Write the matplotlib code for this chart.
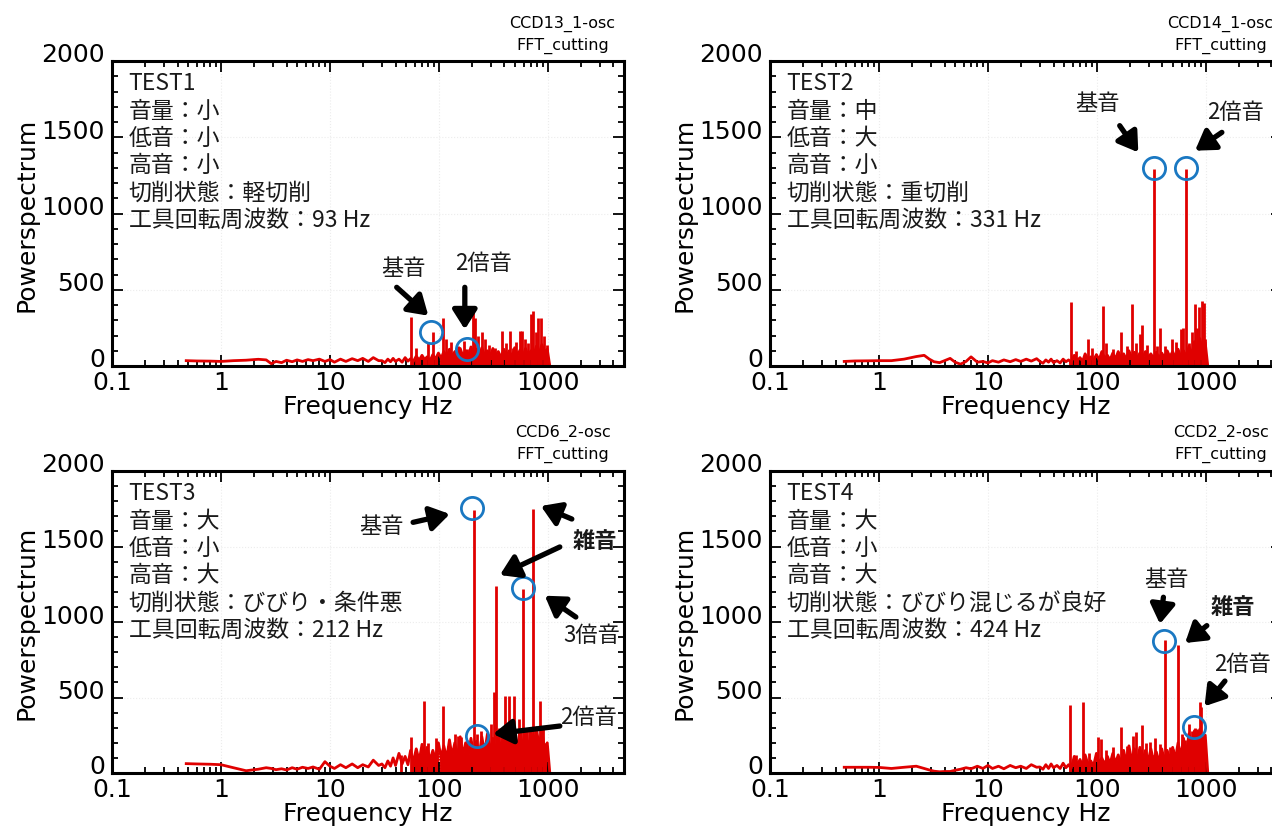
"""FFT power spectra of four cutting tests (2x2 panels, log frequency axis)."""

import matplotlib
matplotlib.use("Agg")
import matplotlib.pyplot as plt
from matplotlib import transforms as mtransforms
from matplotlib.ticker import FixedLocator, LogLocator, MultipleLocator, NullFormatter

plt.rcParams["font.family"] = ["DejaVu Sans", "Noto Sans CJK JP"]
JP = ["Noto Sans CJK JP", "DejaVu Sans"]

RED = "#e00000"
BLUE = "#1a78c2"

# ---- data -----------------------------------------------------------------
LOW_FREQ = [0.48, 0.6, 0.8, 1.0, 1.3, 1.7, 2.2, 2.6, 2.9, 3.2, 3.6, 4.0, 4.5, 5.0,
            5.6, 6.3, 7.0, 8.0, 9.0, 10, 11, 12.5, 14, 16, 18, 20, 22.5, 25, 28]
NOISE_FREQ = [30, 32, 34, 36, 38, 40, 43, 46, 49, 52, 55, 58, 62, 66, 70, 74, 78, 83,
              88, 93, 99, 105, 111, 118, 125, 132, 140, 148, 157, 166, 176, 186, 197,
              209, 221, 234, 248, 263, 279, 295, 313, 331, 351, 372, 394, 417, 442,
              468, 496, 525, 556, 589, 624, 661, 700, 742, 786, 832, 881, 933, 988, 1040]

low1 = [35, 33, 32, 30, 35, 38, 44, 40, 15, 30, 22, 38, 28, 40, 30, 42, 35, 45, 30,
        42, 25, 45, 30, 48, 35, 50, 30, 55, 35]
noise1 = [35, 22, 45, 28, 50, 30, 45, 25, 55, 32, 48, 28, 65, 38, 70, 42, 60, 35,
          75, 45, 85, 50, 95, 55, 110, 60, 95, 50, 115, 65, 100, 60, 125, 70, 110, 65,
          120, 70, 100, 60, 115, 65, 95, 55, 110, 60, 100, 55, 120, 70, 105, 60, 115, 65,
          100, 70, 130, 80, 140, 90, 110, 5]
spk1_f = [55, 62, 79, 88, 108, 117, 129, 150, 169, 182, 206, 215, 230, 247, 265, 290,
          327, 381, 410, 445, 475, 515, 550, 576, 620, 660, 708, 733, 780, 815, 865, 930, 990]
spk1_p = [320, 120, 160, 220, 315, 180, 160, 130, 165, 110, 360, 315, 200, 225, 180, 140,
          120, 232, 150, 232, 120, 160, 232, 230, 180, 150, 340, 363, 220, 315, 315, 200, 140]

low2 = [30, 33, 34, 35, 35, 45, 62, 70, 45, 28, 22, 35, 50, 25, 12, 30, 60, 25, 30,
        20, 35, 25, 40, 28, 42, 30, 45, 32, 48]
noise2 = [30, 18, 40, 25, 45, 22, 35, 20, 45, 28, 40, 25, 70, 35, 55, 30, 80, 40,
          60, 35, 75, 40, 95, 50, 70, 40, 85, 45, 95, 50, 80, 45, 100, 55, 90, 50,
          85, 50, 95, 55, 80, 50, 90, 50, 85, 55, 100, 60, 95, 55, 110, 60, 100, 60,
          130, 70, 160, 90, 180, 100, 150, 5]
spk2_f = [58, 65, 83, 90, 114, 120, 140, 165, 190, 212, 230, 247, 262, 290, 331, 360,
          379, 420, 488, 530, 593, 620, 662, 700, 740, 787, 830, 857, 919, 955, 990]
spk2_p = [420, 100, 177, 120, 391, 150, 110, 221, 130, 406, 150, 210, 269, 140, 1290, 130,
          247, 130, 177, 160, 243, 250, 1290, 150, 221, 406, 250, 385, 428, 415, 180]

low3 = [62, 60, 58, 55, 35, 15, 25, 35, 30, 22, 28, 20, 35, 25, 38, 30, 40, 25, 75,
        45, 30, 55, 35, 60, 35, 55, 40, 85, 50]
noise3 = [60, 35, 80, 45, 100, 50, 130, 60, 110, 55, 150, 70, 160, 80, 190, 90, 170, 85,
          150, 90, 200, 100, 180, 95, 220, 110, 200, 100, 240, 120, 200, 110, 230, 120, 210, 115,
          240, 130, 260, 140, 230, 120, 250, 140, 280, 150, 260, 140, 270, 150, 290, 160, 270, 150,
          280, 160, 300, 170, 280, 160, 200, 10]
spk3_f = [45, 55, 62, 73, 80, 95, 108, 120, 140, 151, 161, 180, 212, 225, 245, 265, 283,
          299, 323, 334, 360, 380, 404, 440, 484, 540, 594, 640, 680, 730, 775, 845, 900, 950]
spk3_p = [120, 236, 160, 479, 200, 230, 446, 180, 260, 247, 240, 220, 1740, 260, 280, 200, 260,
          324, 534, 1240, 300, 250, 512, 512, 512, 360, 1220, 300, 280, 1750, 305, 479, 300, 200]

low4 = [38, 38, 38, 37, 30, 38, 45, 30, 20, 12, 8, 10, 10, 18, 25, 35, 28, 45, 30,
        50, 30, 45, 28, 50, 35, 45, 30, 55, 38]
noise4 = [40, 25, 55, 30, 60, 35, 50, 30, 65, 35, 55, 30, 110, 50, 90, 45, 120, 55,
          80, 45, 130, 60, 100, 55, 110, 60, 130, 65, 120, 60, 150, 70, 180, 80, 160, 75,
          170, 80, 150, 75, 160, 80, 140, 75, 160, 80, 150, 85, 170, 90, 200, 110, 230, 120,
          260, 180, 280, 200, 290, 210, 250, 10]
spk4_f = [57, 65, 75, 85, 103, 108, 120, 140, 168, 190, 216, 231, 257, 280, 306, 340,
          380, 424, 470, 500, 550, 600, 650, 708, 750, 787, 830, 886, 910, 960]
spk4_p = [450, 120, 472, 130, 236, 225, 150, 170, 302, 180, 247, 269, 318, 200, 203, 230,
          190, 880, 170, 160, 850, 260, 220, 325, 280, 300, 290, 468, 440, 260]

headers = ["CCD13_1-osc", "CCD14_1-osc", "CCD6_2-osc", "CCD2_2-osc"]
info = [
    ["TEST1", "音量：小", "低音：小", "高音：小", "切削状態：軽切削", "工具回転周波数：93 Hz"],
    ["TEST2", "音量：中", "低音：大", "高音：小", "切削状態：重切削", "工具回転周波数：331 Hz"],
    ["TEST3", "音量：大", "低音：小", "高音：大", "切削状態：びびり・条件悪", "工具回転周波数：212 Hz"],
    ["TEST4", "音量：大", "低音：小", "高音：大", "切削状態：びびり混じるが良好", "工具回転周波数：424 Hz"],
]

# annotations: circles (f, p); labels (text, f, p, bold); arrows (tail, head)
notes = [
    dict(circles=[(85, 221), (182, 111)],
         labels=[("基音", 47, 647, False), ("2倍音", 259, 680, False)],
         arrows=[((41, 516), (80, 330)), ((173, 516), (173, 240))]),
    dict(circles=[(331, 1296), (662, 1296)],
         labels=[("基音", 101, 1729, False), ("2倍音", 1862, 1670, False)],
         arrows=[((162, 1576), (240, 1401)), ((1403, 1532), (796, 1412))]),
    dict(circles=[(200, 1753), (594, 1223), (224, 243)],
         labels=[("基音", 29.8, 1638, False), ("雑音", 2700, 1537, True),
                 ("3倍音", 2535, 920, False), ("2倍音", 2378, 371, False)],
         arrows=[((58, 1660), (126, 1715)), ((1660, 1682), (863, 1768)),
                 ((1288, 1497), (363, 1311)), ((1807, 1033), (938, 1174)),
                 ((1288, 311), (315, 258))]),
    dict(circles=[(416, 876), (771, 302)],
         labels=[("基音", 437, 1285, False), ("雑音", 1774, 1106, True),
                 ("2倍音", 2193, 722, False)],
         arrows=[((408, 1164), (379, 987)), ((1021, 976), (645, 861)),
                 ((1497, 609), (973, 442))]),
]

lows = [low1, low2, low3, low4]
noises = [noise1, noise2, noise3, noise4]
spikes = [(spk1_f, spk1_p), (spk2_f, spk2_p), (spk3_f, spk3_p), (spk4_f, spk4_p)]

# ---- layout (pixel boxes of the four frames) --------------------------------
W, H = 1272, 828
COL_X = [112, 770]
ROWS = [(62, 367), (472, 774)]
AX_W = 512

fig = plt.figure(figsize=(W / 100, H / 100), dpi=100)
up = mtransforms.ScaledTranslation(0, 0.09, fig.dpi_scale_trans)

for i in range(4):
    row, col = divmod(i, 2)
    top, bottom = ROWS[row]
    ax = fig.add_axes([COL_X[col] / W, 1 - bottom / H, AX_W / W, (bottom - top) / H])

    ax.set_xscale("log")
    ax.set_xlim(0.1, 5000)
    ax.set_ylim(0, 2000)
    ax.grid(True, which="major", color="#ececec", ls=":", lw=0.8)

    ax.plot(LOW_FREQ + NOISE_FREQ, lows[i] + noises[i], color=RED, lw=2)
    ax.fill_between(NOISE_FREQ[10:], noises[i][10:], color=RED, lw=0)
    ax.vlines(spikes[i][0], 0, spikes[i][1], color=RED, lw=2)

    ax.xaxis.set_major_locator(FixedLocator([0.1, 1, 10, 100, 1000]))
    ax.set_xticklabels(["0.1", "1", "10", "100", "1000"])
    ax.xaxis.set_minor_locator(LogLocator(base=10, subs=(2, 3, 4, 5, 6, 7, 8, 9), numticks=20))
    ax.xaxis.set_minor_formatter(NullFormatter())
    ax.yaxis.set_major_locator(MultipleLocator(500))
    ax.yaxis.set_minor_locator(MultipleLocator(100))
    ax.tick_params(which="both", direction="in", top=True, right=True, width=1.3)
    ax.tick_params(which="major", length=8, labelsize=18)
    ax.tick_params(which="minor", length=4)
    ax.tick_params(axis="x", pad=3)
    ax.tick_params(axis="y", pad=5)
    for lbl in ax.get_yticklabels():
        lbl.set_transform(lbl.get_transform() + up)
    for s in ax.spines.values():
        s.set_linewidth(2.2)

    ax.set_xlabel("Frequency Hz", fontsize=18, labelpad=0)
    ax.set_ylabel("Powerspectrum", fontsize=18, labelpad=2)

    # header in the top right
    ax.text(0.88, 1.152 if row == 0 else 1.157, headers[i] + "\nFFT_cutting",
            transform=ax.transAxes, ha="center", va="top", fontsize=11.5,
            linespacing=1.5)

    # condition block
    for k, line in enumerate(info[i]):
        ax.annotate(line, xy=(0, 1), xycoords="axes fraction",
                    xytext=(12, -(22 + 27.2 * k) * 0.72), textcoords="offset points",
                    ha="left", va="center", fontsize=16.5, family=JP, color="#1a1a1a")

    n = notes[i]
    for (tail, head) in n["arrows"]:
        ax.annotate("", xy=head, xytext=tail,
                    arrowprops=dict(arrowstyle="-|>,head_length=0.55,head_width=0.35",
                                    lw=3.8, color="black", shrinkA=0, shrinkB=0,
                                    mutation_scale=21),
                    annotation_clip=False)
    for (txt, f, p, bold) in n["labels"]:
        ax.text(f, p, txt, ha="center", va="center", fontsize=16, family=JP,
                fontweight="bold" if bold else "normal", color="#1a1a1a", clip_on=False)
    cf, cp = zip(*n["circles"])
    ax.plot(cf, cp, "o", ms=16, mfc="none", mec=BLUE, mew=2, clip_on=False)

fig.savefig("out.png", dpi=100)
